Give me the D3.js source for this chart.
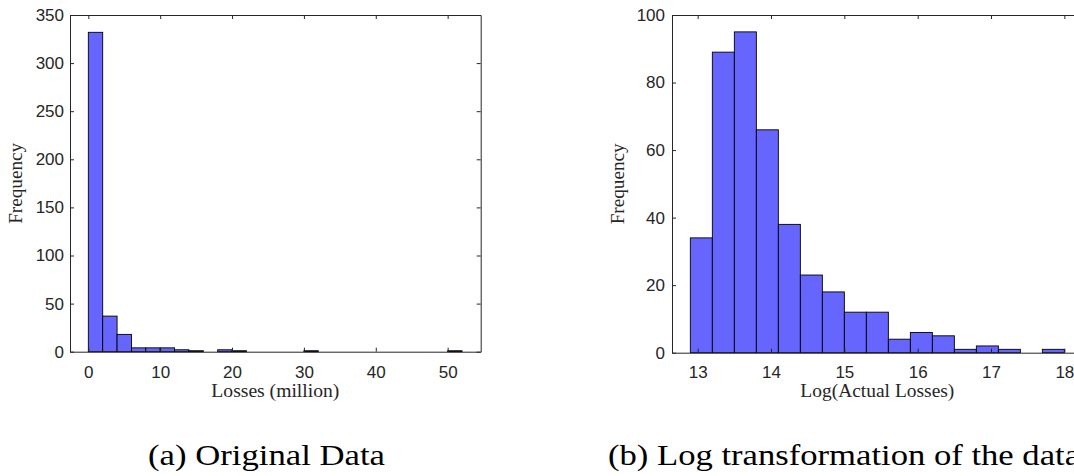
<!DOCTYPE html>
<html>
<head>
<meta charset="utf-8">
<script src="https://cdn.jsdelivr.net/npm/d3@7"></script>
<style>
  html, body { margin: 0; padding: 0; background: #fff; }
  svg { display: block; }
</style>
</head>
<body>
<svg id="chart" width="1074" height="476"></svg>
<script>
// ---- Data ----
// (a) Original data: histogram of losses (million), bin width 2 starting at 0
const lossBinStart = 0;
const lossBinWidth = 2;
const lossCounts = [332, 37, 18, 4, 4, 4, 2, 1, 0, 2, 1, 0, 0, 0, 0, 1, 0, 0, 0, 0, 0, 0, 0, 0, 0, 1];
const lossXTicks = [0, 10, 20, 30, 40, 50];
const lossYTicks = [0, 50, 100, 150, 200, 250, 300, 350];

// (b) Log-transformed data: bin width 0.3 starting at 12.9
const logBinStart = 12.9;
const logBinWidth = 0.3;
const logCounts = [34, 89, 95, 66, 38, 23, 18, 12, 12, 4, 6, 5, 1, 2, 1, 0, 1];
const logXTicks = [13, 14, 15, 16, 17, 18];
const logYTicks = [0, 20, 40, 60, 80, 100];

const captions = ["(a) Original Data", "(b) Log transformation of the data"];
const xLabels = ["Losses (million)", "Log(Actual Losses)"];
const yLabel = "Frequency";

// ---- Drawing ----
const svg = d3.select("#chart");
const AXIS = "#262626";
const FILL = "#6666ff";
const SANS = "'Liberation Sans', Arial, Helvetica, sans-serif";
const SERIF = "'Liberation Serif', 'Times New Roman', serif";
const fmt = d3.format("d");

function histPanel(cfg) {
  const g = svg.append("g");
  const x = d3.scaleLinear().domain(cfg.xDomain).range([cfg.left, cfg.right]);
  const y = d3.scaleLinear().domain(cfg.yDomain).range([cfg.bottom, cfg.top]);

  const bins = cfg.counts.map((c, i) => ({
    x0: cfg.binStart + i * cfg.binWidth,
    x1: cfg.binStart + (i + 1) * cfg.binWidth,
    c
  })).filter(d => d.c > 0);

  g.selectAll("rect.bar").data(bins).enter().append("rect")
    .attr("class", "bar")
    .attr("x", d => x(d.x0))
    .attr("width", d => x(d.x1) - x(d.x0))
    .attr("y", d => y(d.c))
    .attr("height", d => y(0) - y(d.c))
    .attr("fill", FILL)
    .attr("stroke", "#000")
    .attr("stroke-width", 0.9);

  // axes (inward ticks, box)
  const axB = d3.axisBottom(x).tickValues(cfg.xTicks).tickFormat(fmt).tickSizeInner(-4).tickSizeOuter(0);
  const axT = d3.axisTop(x).tickValues(cfg.xTicks).tickSizeInner(-4).tickSizeOuter(0).tickFormat("");
  const axL = d3.axisLeft(y).tickValues(cfg.yTicks).tickFormat(fmt).tickSizeInner(-4).tickSizeOuter(0).tickPadding(cfg.yPad);
  const axR = d3.axisRight(y).tickValues(cfg.yTicks).tickSizeInner(-4).tickSizeOuter(0).tickFormat("");

  const gb = g.append("g").attr("transform", `translate(0,${cfg.bottom})`).call(axB);
  const gt = g.append("g").attr("transform", `translate(0,${cfg.top})`).call(axT);
  const gl = g.append("g").attr("transform", `translate(${cfg.left},0)`).call(axL);
  const gr = g.append("g").attr("transform", `translate(${cfg.right},0)`).call(axR);

  [gb, gt, gl, gr].forEach(a => {
    a.select(".domain").attr("stroke", AXIS).attr("stroke-width", 1);
    a.selectAll(".tick line").attr("stroke", AXIS).attr("stroke-width", 1);
    a.selectAll(".tick text").attr("fill", AXIS).style("font-family", SANS).style("font-size", "17px");
  });
  gb.selectAll(".tick text").attr("y", 378 - cfg.bottom).attr("dy", 0);

  // axis labels
  g.append("text")
    .attr("x", (cfg.left + cfg.right) / 2)
    .attr("y", 397)
    .attr("text-anchor", "middle")
    .attr("textLength", cfg.xLabelLen)
    .attr("lengthAdjust", "spacingAndGlyphs")
    .style("font-family", SERIF).style("font-size", "18px").attr("fill", AXIS)
    .text(cfg.xLabel);

  g.append("text")
    .attr("transform", `translate(${cfg.left - 48},${(cfg.top + cfg.bottom) / 2}) rotate(-90)`)
    .attr("text-anchor", "middle")
    .attr("textLength", 81)
    .attr("lengthAdjust", "spacingAndGlyphs")
    .style("font-family", SERIF).style("font-size", "18px").attr("fill", AXIS)
    .text(yLabel);

  // caption
  svg.append("text")
    .attr("x", cfg.capX)
    .attr("y", 465)
    .attr("textLength", cfg.capLen)
    .attr("lengthAdjust", "spacingAndGlyphs")
    .style("font-family", SERIF).style("font-size", "30px").attr("fill", "#000")
    .text(cfg.caption);
}

histPanel({
  left: 70, right: 480.7, top: 15, bottom: 351.7,
  xDomain: [-2.55, 54.6], yDomain: [0, 350],
  binStart: lossBinStart, binWidth: lossBinWidth, counts: lossCounts,
  xTicks: lossXTicks, yTicks: lossYTicks, yPad: 6,
  xLabel: xLabels[0], xLabelLen: 128,
  caption: captions[0], capX: 148, capLen: 237
});

histPanel({
  left: 672, right: 1082.7, top: 15, bottom: 352.7,
  xDomain: [12.65, 18.25], yDomain: [0, 100],
  binStart: logBinStart, binWidth: logBinWidth, counts: logCounts,
  xTicks: logXTicks, yTicks: logYTicks, yPad: 7,
  xLabel: xLabels[1], xLabelLen: 154,
  caption: captions[1], capX: 608, capLen: 472
});
</script>
</body>
</html>
